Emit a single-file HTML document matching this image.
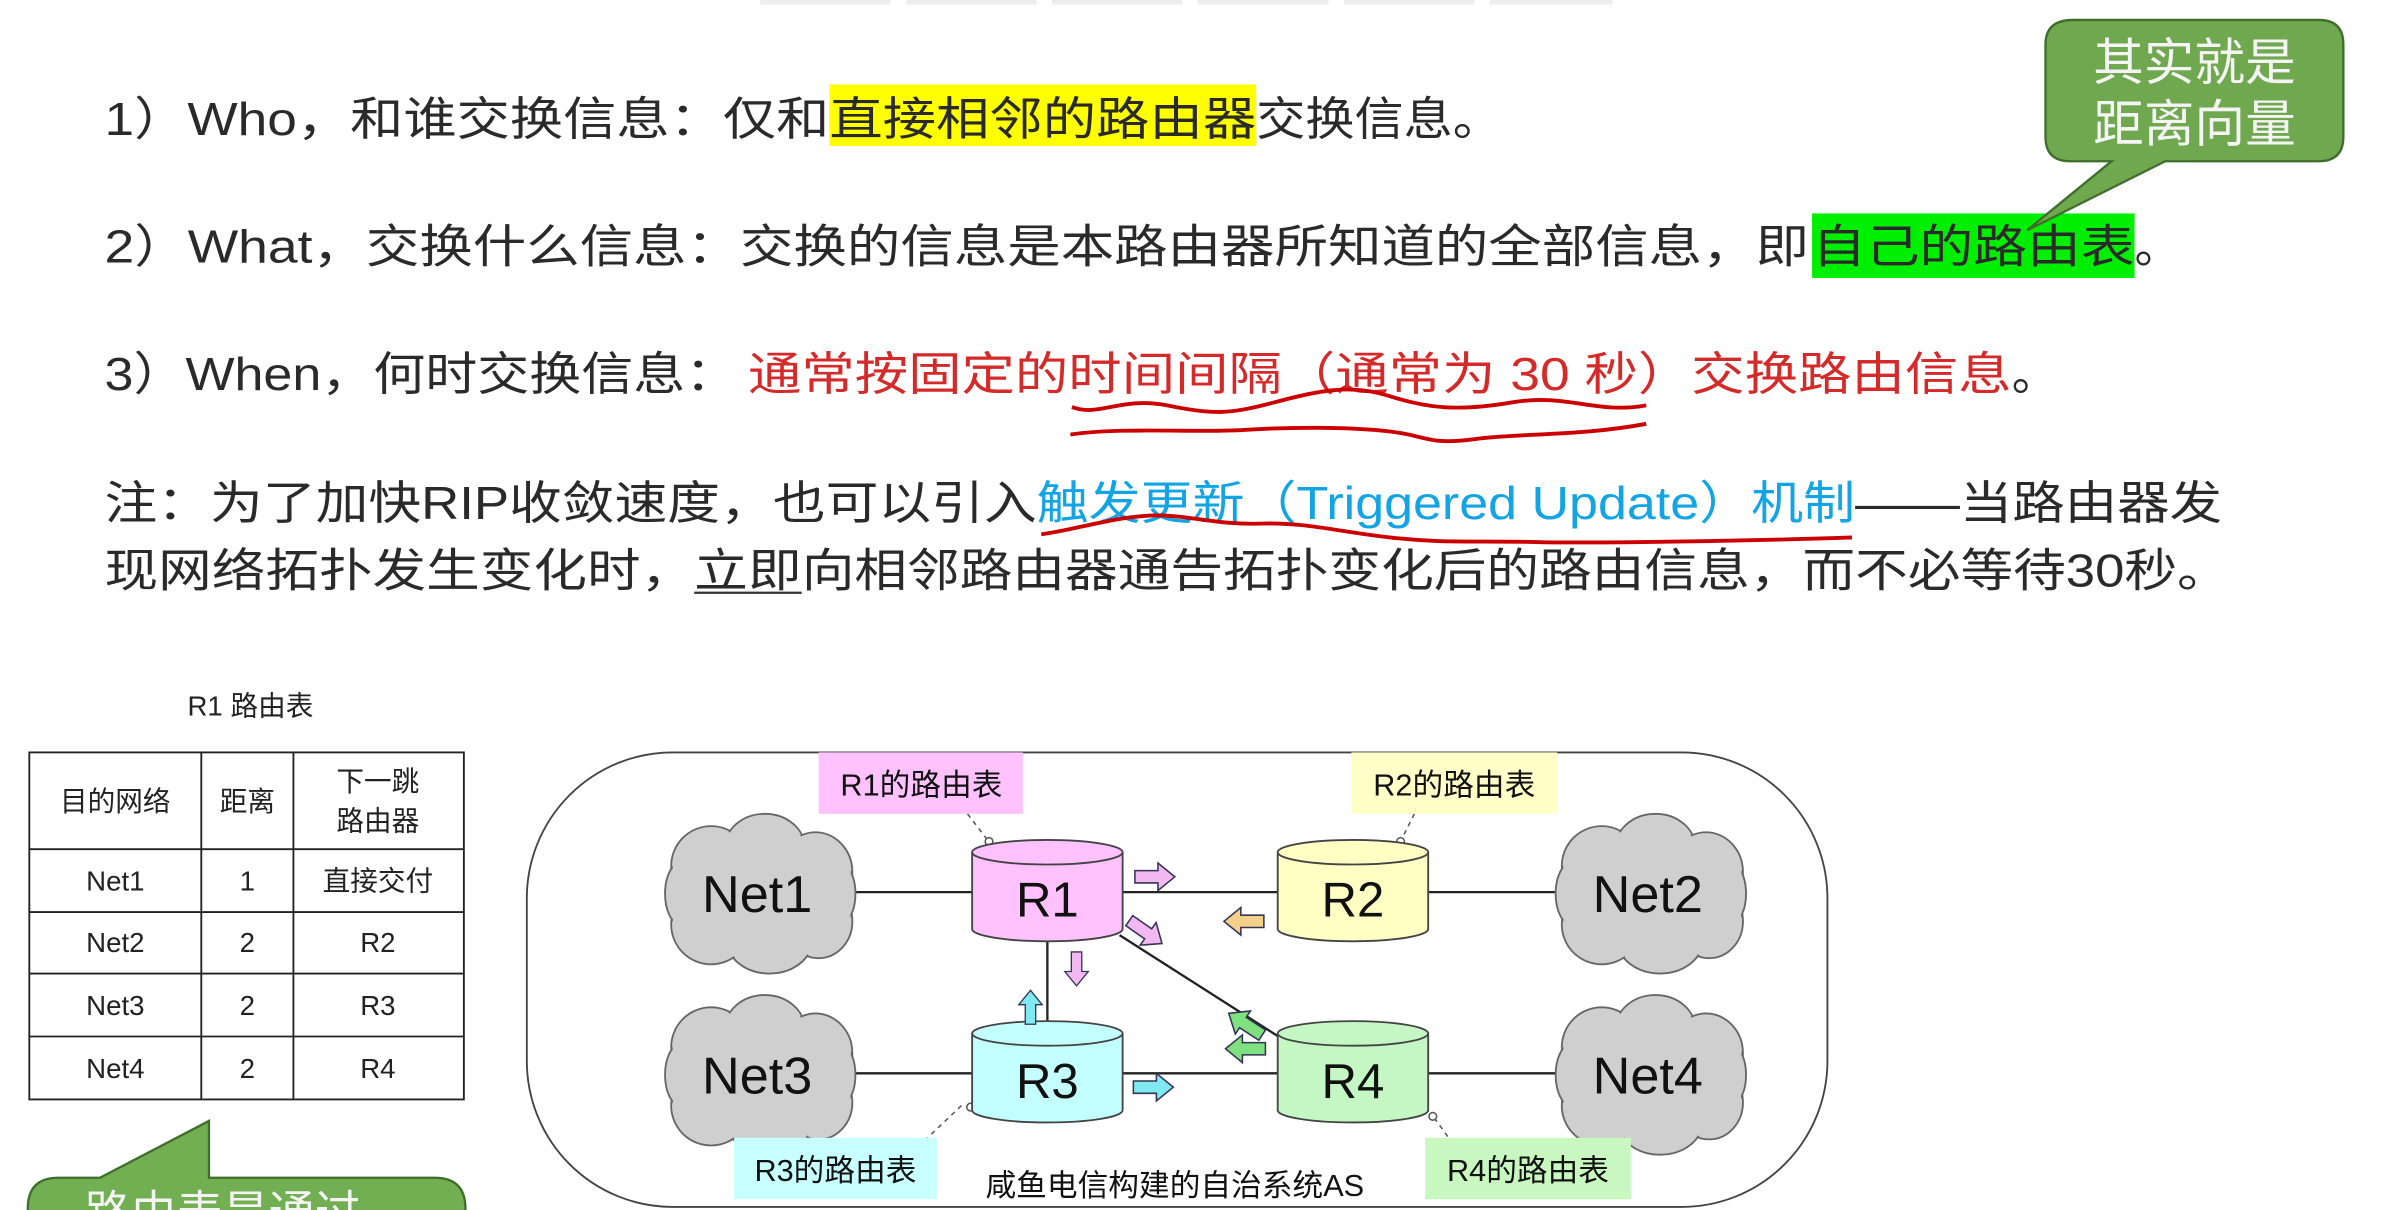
<!DOCTYPE html>
<html><head><meta charset="utf-8"><style>
html,body{margin:0;padding:0;background:#fff;width:2408px;height:1210px;overflow:hidden}
svg{display:block}
text{font-family:"Liberation Sans","Noto Sans CJK SC",sans-serif}
.t{font-size:30px;fill:#2a2a2a}
</style></head><body>
<svg width="2408" height="1210" viewBox="0 0 1568 788" xmlns="http://www.w3.org/2000/svg">
<defs>
<path id="ar" d="M-13,-4 H2 V-9 L13,0 L2,9 V4 H-13 Z"/>
<g id="cloud">
 <g fill="#cfcfcf" stroke="#666" stroke-width="1.2">
  <ellipse cx="-30" cy="-18" rx="26" ry="26"/><ellipse cx="5" cy="-30" rx="26" ry="22"/>
  <ellipse cx="38" cy="-14" rx="24" ry="26"/><ellipse cx="40" cy="18" rx="22" ry="24"/>
  <ellipse cx="8" cy="30" rx="28" ry="22"/><ellipse cx="-30" cy="20" rx="26" ry="26"/>
  <ellipse cx="-50" cy="0" rx="10" ry="20"/><ellipse cx="56" cy="0" rx="8" ry="18"/>
 </g>
 <g fill="#cfcfcf">
  <ellipse cx="-30" cy="-18" rx="25" ry="25"/><ellipse cx="5" cy="-30" rx="25" ry="21"/>
  <ellipse cx="38" cy="-14" rx="23" ry="25"/><ellipse cx="40" cy="18" rx="21" ry="23"/>
  <ellipse cx="8" cy="30" rx="27" ry="21"/><ellipse cx="-30" cy="20" rx="25" ry="25"/>
  <ellipse cx="-49" cy="0" rx="9" ry="19"/><ellipse cx="55" cy="0" rx="7" ry="17"/>
  <rect x="-40" y="-30" width="80" height="60"/>
 </g>
</g>
</defs>

<g fill="#eee"><rect x="495" y="0" width="85" height="3"/><rect x="590" y="0" width="85" height="3"/><rect x="685" y="0" width="85" height="3"/><rect x="780" y="0" width="85" height="3"/><rect x="875" y="0" width="85" height="3"/><rect x="970" y="0" width="80" height="3"/></g>

<rect x="540" y="55" width="278" height="40" fill="#ffff00"/>
<rect x="1180" y="139" width="210" height="42" fill="#00ee00"/>

<text class="t" x="68" y="88" textLength="472" lengthAdjust="spacingAndGlyphs">1）Who，和谁交换信息：仅和</text>
<text class="t" x="540" y="88" textLength="278" lengthAdjust="spacingAndGlyphs">直接相邻的路由器</text>
<text class="t" x="818" y="88" textLength="160" lengthAdjust="spacingAndGlyphs">交换信息。</text>

<text class="t" x="68" y="171" textLength="1110" lengthAdjust="spacingAndGlyphs">2）What，交换什么信息：交换的信息是本路由器所知道的全部信息，即</text>
<text class="t" x="1180" y="171" textLength="210" lengthAdjust="spacingAndGlyphs">自己的路由表</text>
<text class="t" x="1390" y="171">。</text>

<text class="t" x="68" y="254" textLength="412" lengthAdjust="spacingAndGlyphs">3）When，何时交换信息：</text>
<text class="t" x="487" y="254" textLength="823" lengthAdjust="spacingAndGlyphs" style="fill:#d42a2a">通常按固定的时间间隔（通常为 30 秒）交换路由信息</text>
<text class="t" x="1310" y="254">。</text>
<path d="M698,265 C715,272 730,258 760,264 S800,270 830,262 S880,250 905,258 S950,268 985,262 S1040,270 1072,264" fill="none" stroke="#c00" stroke-width="2.5"/>
<path d="M697,283 C730,278 780,282 810,280 S880,278 905,281 S930,290 960,286 S1030,284 1072,276" fill="none" stroke="#c00" stroke-width="2.5"/>

<text class="t" x="68" y="338" textLength="607" lengthAdjust="spacingAndGlyphs">注：为了加快RIP收敛速度，也可以引入</text>
<text class="t" x="675" y="338" textLength="533" lengthAdjust="spacingAndGlyphs" style="fill:#12a4e4">触发更新（Triggered Update）机制</text>
<text class="t" x="1208" y="338" textLength="239" lengthAdjust="spacingAndGlyphs">——当路由器发</text>
<path d="M678,348 C700,345 720,338 745,336 S790,342 820,341 S870,346 905,350 S960,352 1000,353 S1150,352 1206,350" fill="none" stroke="#c00" stroke-width="2.5"/>
<text class="t" x="68" y="382" textLength="384" lengthAdjust="spacingAndGlyphs">现网络拓扑发生变化时，</text>
<text class="t" x="452" y="382" textLength="70" lengthAdjust="spacingAndGlyphs">立即</text>
<line x1="452" y1="386" x2="522" y2="386" stroke="#333" stroke-width="1.5"/>
<text class="t" x="522" y="382" textLength="930" lengthAdjust="spacingAndGlyphs">向相邻路由器通告拓扑变化后的路由信息，而不必等待30秒。</text>

<path d="M1350,13 H1510 Q1526,13 1526,29 V89 Q1526,105 1510,105 H1410 L1320,150 L1375,105 H1348 Q1332,105 1332,89 V29 Q1332,13 1350,13 Z" fill="#6fa84f" stroke="#3f6d2a" stroke-width="1.5"/>
<text x="1429" y="52" text-anchor="middle" style="font-size:33px;fill:#f4f4f4">其实就是</text>
<text x="1429" y="92" text-anchor="middle" style="font-size:33px;fill:#f4f4f4">距离向量</text>

<text x="163" y="466" text-anchor="middle" style="font-size:18px;fill:#222">R1 路由表</text>
<g stroke="#222" stroke-width="1.2" fill="none">
<rect x="19" y="490" width="283" height="226"/>
<line x1="131" y1="490" x2="131" y2="716"/><line x1="191" y1="490" x2="191" y2="716"/>
<line x1="19" y1="553" x2="302" y2="553"/><line x1="19" y1="594" x2="302" y2="594"/>
<line x1="19" y1="634" x2="302" y2="634"/><line x1="19" y1="675" x2="302" y2="675"/>
</g>
<g style="font-size:18px;fill:#222" text-anchor="middle">
<text x="75" y="528">目的网络</text><text x="161" y="528">距离</text>
<text x="246" y="515">下一跳</text><text x="246" y="541">路由器</text>
<text x="75" y="580">Net1</text><text x="161" y="580">1</text><text x="246" y="580">直接交付</text>
<text x="75" y="620">Net2</text><text x="161" y="620">2</text><text x="246" y="620">R2</text>
<text x="75" y="661">Net3</text><text x="161" y="661">2</text><text x="246" y="661">R3</text>
<text x="75" y="702">Net4</text><text x="161" y="702">2</text><text x="246" y="702">R4</text>
</g>

<path d="M38,767 H65 L136,730 V767 H283 Q303,767 303,787 V800 H18 V787 Q18,767 38,767 Z" fill="#72ae52" stroke="#3f6d2a" stroke-width="1.5"/>
<text x="55" y="800" style="font-size:30px;fill:#f4f4f4">路由表是通过</text>

<rect x="343" y="490" width="847" height="296" rx="95" ry="95" fill="none" stroke="#444" stroke-width="1.2"/>

<g stroke="#222" stroke-width="1.5">
<line x1="545" y1="581" x2="1020" y2="581"/>
<line x1="545" y1="699" x2="1020" y2="699"/>
<line x1="682" y1="612" x2="682" y2="666"/>
<line x1="729" y1="609" x2="834" y2="676"/>
</g>
<g stroke="#555" stroke-width="1" stroke-dasharray="3,3" fill="none">
<line x1="630" y1="530" x2="643" y2="547"/><line x1="921" y1="530" x2="913" y2="546"/>
<line x1="626" y1="720" x2="604" y2="741"/><line x1="934" y1="728" x2="944" y2="742"/>
</g>
<g fill="#fff" stroke="#555" stroke-width="1">
<circle cx="644" cy="548" r="2.5"/><circle cx="912" cy="548" r="2.5"/>
<circle cx="632" cy="721" r="2.5"/><circle cx="933" cy="727" r="2.5"/>
</g>

<use href="#cloud" transform="translate(493,582)"/>
<use href="#cloud" transform="translate(1073,582)"/>
<use href="#cloud" transform="translate(493,700)"/>
<use href="#cloud" transform="translate(1073,700)"/>
<g style="font-size:34px;fill:#111" text-anchor="middle">
<text x="493" y="594">Net1</text><text x="1073" y="594">Net2</text>
<text x="493" y="712">Net3</text><text x="1073" y="712">Net4</text>
</g>

<g stroke="#444" stroke-width="1.2">
<path d="M633,555 V605 A49,8 0 0 0 731,605 V555" fill="#ffc2ff"/><ellipse cx="682" cy="555" rx="49" ry="8" fill="#ffc2ff"/>
<path d="M832,555 V605 A49,8 0 0 0 930,605 V555" fill="#ffffc4"/><ellipse cx="881" cy="555" rx="49" ry="8" fill="#ffffc4"/>
<path d="M633,673 V723 A49,8 0 0 0 731,723 V673" fill="#c4ffff"/><ellipse cx="682" cy="673" rx="49" ry="8" fill="#c4ffff"/>
<path d="M832,673 V723 A49,8 0 0 0 930,723 V673" fill="#c4f7c4"/><ellipse cx="881" cy="673" rx="49" ry="8" fill="#c4f7c4"/>
</g>
<g style="font-size:32px;fill:#111" text-anchor="middle">
<text x="682" y="597">R1</text><text x="881" y="597">R2</text>
<text x="682" y="715">R3</text><text x="881" y="715">R4</text>
</g>

<g stroke="#335" stroke-width="1">
<use href="#ar" transform="translate(752,571)" fill="#f2b8f2"/>
<use href="#ar" transform="translate(810,600) rotate(180)" fill="#f5d08a"/>
<use href="#ar" transform="translate(746,607) rotate(35)" fill="#f2b8f2"/>
<use href="#ar" transform="translate(701,631) rotate(90) scale(0.85)" fill="#f2b8f2"/>
<use href="#ar" transform="translate(671,656) rotate(-90) scale(0.85)" fill="#7fe8f0"/>
<use href="#ar" transform="translate(811,667) rotate(213)" fill="#7fe07f"/>
<use href="#ar" transform="translate(811,683) rotate(180)" fill="#7fe07f"/>
<use href="#ar" transform="translate(751,708)" fill="#7fe8f0"/>
</g>

<rect x="533" y="490" width="133" height="40" fill="#ffc2ff"/>
<rect x="880" y="490" width="134" height="40" fill="#ffffc8"/>
<rect x="478" y="741" width="132" height="40" fill="#c8ffff"/>
<rect x="928" y="741" width="134" height="40" fill="#c8f7c0"/>
<g style="font-size:20px;fill:#111" text-anchor="middle">
<text x="600" y="518">R1的路由表</text><text x="947" y="518">R2的路由表</text>
<text x="544" y="769">R3的路由表</text><text x="995" y="769">R4的路由表</text>
</g>
<text x="765" y="779" text-anchor="middle" style="font-size:20px;fill:#111">咸鱼电信构建的自治系统AS</text>
</svg>
</body></html>
